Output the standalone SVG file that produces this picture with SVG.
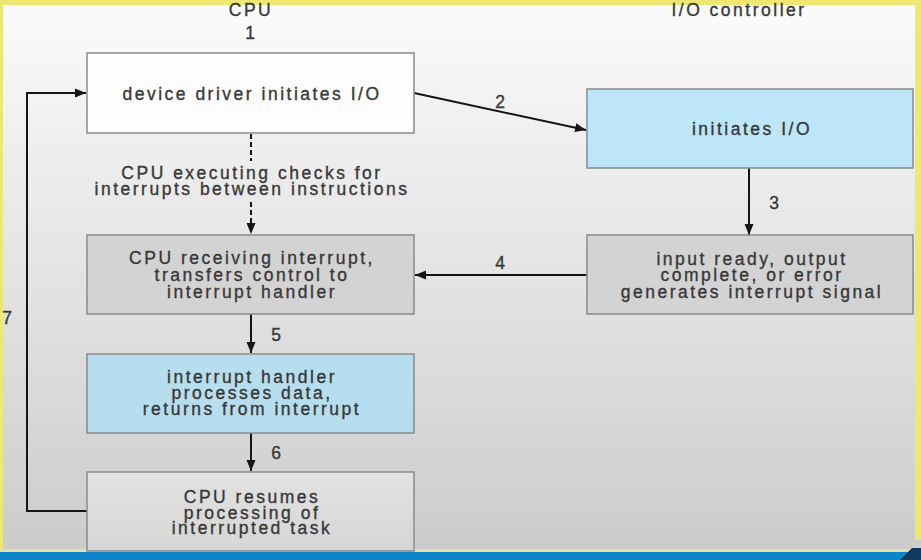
<svg xmlns="http://www.w3.org/2000/svg" width="921" height="560" viewBox="0 0 921 560">
<style>
text{font-family:"Liberation Sans",Arial,sans-serif;font-size:17.5px;fill:#383838;stroke:#383838;stroke-width:0.35px;text-anchor:middle;letter-spacing:2.5px}
.box{stroke:#8a8a8a;stroke-width:1.5}
.ln{stroke:#151515;stroke-width:2;fill:none}
.num{letter-spacing:0}
</style>
<defs>
<linearGradient id="bg" x1="0" y1="0" x2="0" y2="1">
<stop offset="0" stop-color="#fbfbfb"/><stop offset="1" stop-color="#cbcbcb"/>
</linearGradient>
<linearGradient id="b6" x1="0" y1="0" x2="0" y2="1">
<stop offset="0" stop-color="#e2e2e2"/><stop offset="1" stop-color="#d6d6d6"/>
</linearGradient>
<marker id="ah" markerUnits="userSpaceOnUse" markerWidth="12" markerHeight="10" refX="11" refY="5" orient="auto">
<path d="M0,0.5 L11,5 L0,9.5 Z" fill="#151515"/>
</marker>
</defs>
<rect x="0" y="0" width="921" height="560" fill="url(#bg)"/>
<rect x="0" y="0" width="921" height="5" fill="#eee873"/>
<rect x="0" y="0" width="3" height="552" fill="#eee873"/>
<rect x="915" y="0" width="6" height="540" fill="#eee873"/>
<rect x="0" y="549" width="921" height="3" fill="#e4dfae"/>
<rect x="0" y="552" width="921" height="8" fill="#0f84c8"/>
<path d="M900,560 L912,548 L921,548 L921,560 Z" fill="#123a5c"/>

<text x="251" y="16">CPU</text>
<text x="739" y="16">I/O controller</text>
<text class="num" x="250" y="39">1</text>

<g id="connectors">
<path class="ln" d="M414,93 L586,130" marker-end="url(#ah)"/>
<path class="ln" d="M749,168 L749,235" marker-end="url(#ah)" stroke-width="2.5"/>
<path class="ln" d="M587,275 L415,275" marker-end="url(#ah)"/>
<path class="ln" d="M251,314 L251,353" marker-end="url(#ah)" stroke-width="2.5"/>
<path class="ln" d="M251,433 L251,471" marker-end="url(#ah)" stroke-width="2.5"/>
<path class="ln" d="M87,511 L27,511 L27,93 L86,93" marker-end="url(#ah)" stroke-width="2.5"/>
<path class="ln" d="M251,134 L251,161" stroke-width="2.5" stroke-dasharray="5,3"/>
<path class="ln" d="M251,202 L251,234" stroke-width="2.5" stroke-dasharray="5,3" marker-end="url(#ah)"/>
<text class="num" x="500" y="108">2</text>
<text class="num" x="774" y="209">3</text>
<text class="num" x="500" y="269">4</text>
<text class="num" x="276" y="341">5</text>
<text class="num" x="276" y="459">6</text>
<text class="num" x="7" y="324">7</text>
<text x="252" y="179">CPU executing checks for</text>
<text x="252" y="195">interrupts between instructions</text>
</g>

<g id="n1">
<rect class="box" x="87" y="53" width="327" height="80" fill="#fdfdfd"/>
<text x="252" y="100">device driver initiates I/O</text>
</g>
<g id="n2">
<rect class="box" x="587" y="89" width="326" height="79" fill="#bde7f9"/>
<text x="752" y="135">initiates I/O</text>
</g>
<g id="n3">
<rect class="box" x="87" y="235" width="327" height="79" fill="#d3d3d3"/>
<text x="252" y="264">CPU receiving interrupt,</text>
<text x="252" y="281">transfers control to</text>
<text x="252" y="298">interrupt handler</text>
</g>
<g id="n4">
<rect class="box" x="587" y="235" width="326" height="79" fill="#d3d3d3"/>
<text x="752" y="265">input ready, output</text>
<text x="752" y="281">complete, or error</text>
<text x="752" y="298">generates interrupt signal</text>
</g>
<g id="n5">
<rect class="box" x="87" y="354" width="327" height="79" fill="#b7deef"/>
<text x="252" y="383">interrupt handler</text>
<text x="252" y="399">processes data,</text>
<text x="252" y="415">returns from interrupt</text>
</g>
<g id="n6">
<rect class="box" x="87" y="472" width="327" height="79" fill="url(#b6)"/>
<text x="252" y="503">CPU resumes</text>
<text x="252" y="519">processing of</text>
<text x="252" y="534">interrupted task</text>
</g>
</svg>
